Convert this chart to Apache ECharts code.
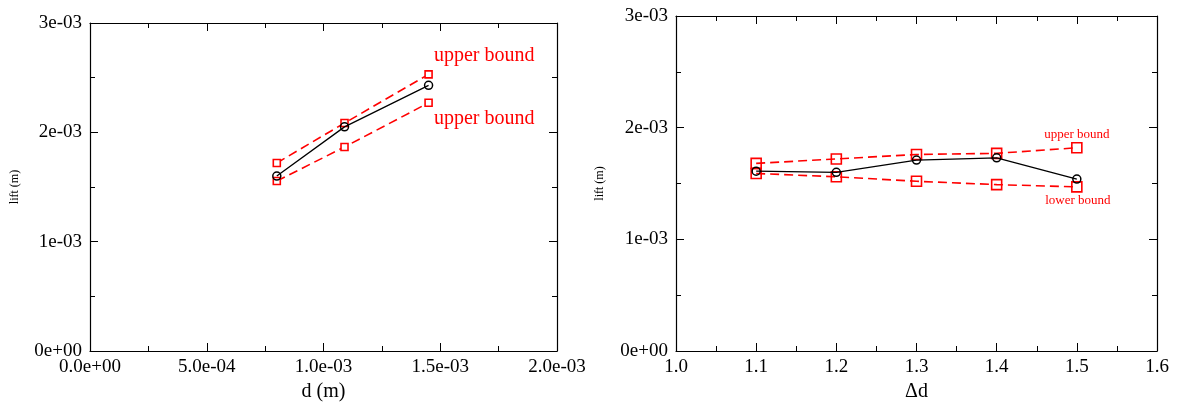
<!DOCTYPE html>
<html><head><meta charset="utf-8">
<script src="https://cdn.jsdelivr.net/npm/echarts@6/dist/echarts.min.js"></script>
<style>html,body{margin:0;padding:0;background:#fff}#c{width:1183px;height:406px}</style>
</head><body><div id="c"></div>
<script>
// ---- data ----
const leftX = [0.8e-3, 1.09e-3, 1.45e-3];
const leftLift = [1.60e-3, 2.05e-3, 2.43e-3];
const leftUpper = [1.72e-3, 2.085e-3, 2.53e-3];
const leftLower = [1.555e-3, 1.866e-3, 2.27e-3];

const rightX = [1.1, 1.2, 1.3, 1.4, 1.5];
const rightLift = [1.61e-3, 1.60e-3, 1.71e-3, 1.73e-3, 1.54e-3];
const rightUpper = [1.68e-3, 1.72e-3, 1.76e-3, 1.77e-3, 1.82e-3];
const rightLower = [1.59e-3, 1.56e-3, 1.52e-3, 1.49e-3, 1.47e-3];

const yTickLabels = ['0e+00', '1e-03', '2e-03', '3e-03'];
const leftXTickLabels = ['0.0e+00', '5.0e-04', '1.0e-03', '1.5e-03', '2.0e-03'];
const rightXTickLabels = ['1.0', '1.1', '1.2', '1.3', '1.4', '1.5', '1.6'];

const leftLabels = ['upper bound', 'upper bound'];
const rightLabels = ['upper bound', 'lower bound'];
// ---------------

const FONT = 'Liberation Serif';
const RED = '#ff0000';

function pts(xs, ys) { return xs.map((x, i) => [x, ys[i]]); }
function withLastLabel(xs, ys, text, labelCfg) {
  const d = pts(xs, ys);
  const last = d.length - 1;
  d[last] = { value: d[last], label: Object.assign({ show: true, formatter: text, color: RED, fontFamily: FONT }, labelCfg) };
  return d;
}

function axisCommon(extra) {
  return Object.assign({
    axisLine: { show: true, onZero: false, lineStyle: { color: '#000', width: 1.2 } },
    axisTick: { show: true, inside: true, length: 8, lineStyle: { color: '#000', width: 1 } },
    minorTick: { show: true, splitNumber: 2, length: 5, lineStyle: { color: '#000', width: 1 } },
    splitLine: { show: false },
    minorSplitLine: { show: false }
  }, extra);
}

const tickFont = { color: '#000', fontFamily: FONT, fontSize: 19 };

function yLabelFmt(v) { return yTickLabels[Math.round(v / 1e-3)]; }

const option = {
  backgroundColor: '#fff',
  animation: false,
  grid: [
    { left: 90, top: 23, right: 626, bottom: 55, containLabel: false, outerBoundsMode: 'none' },
    { left: 676, top: 16, right: 26, bottom: 55, containLabel: false, outerBoundsMode: 'none' }
  ],
  xAxis: [
    axisCommon({ gridIndex: 0, type: 'value', min: 0, max: 2e-3, interval: 5e-4, position: 'bottom',
      name: 'd (m)', nameLocation: 'middle', nameGap: 31,
      nameTextStyle: { color: '#000', fontFamily: FONT, fontSize: 20 },
      axisLabel: Object.assign({ margin: 7, formatter: v => leftXTickLabels[Math.round(v / 5e-4)] }, tickFont) }),
    axisCommon({ gridIndex: 0, type: 'value', min: 0, max: 2e-3, interval: 5e-4, position: 'top',
      axisLabel: { show: false } }),
    axisCommon({ gridIndex: 1, type: 'value', min: 1.0, max: 1.6, interval: 0.1, position: 'bottom',
      name: 'Δd', nameLocation: 'middle', nameGap: 31,
      nameTextStyle: { color: '#000', fontFamily: FONT, fontSize: 20 },
      axisLabel: Object.assign({ margin: 7, formatter: v => rightXTickLabels[Math.round((v - 1.0) / 0.1)] }, tickFont) }),
    axisCommon({ gridIndex: 1, type: 'value', min: 1.0, max: 1.6, interval: 0.1, position: 'top',
      axisLabel: { show: false } })
  ],
  yAxis: [
    axisCommon({ gridIndex: 0, type: 'value', min: 0, max: 3e-3, interval: 1e-3, position: 'left',
      name: 'lift (m)', nameLocation: 'middle', nameGap: 69, nameRotate: 90,
      nameTextStyle: { color: '#000', fontFamily: FONT, fontSize: 12 },
      axisLabel: Object.assign({ margin: 8, formatter: yLabelFmt }, tickFont) }),
    axisCommon({ gridIndex: 0, type: 'value', min: 0, max: 3e-3, interval: 1e-3, position: 'right',
      axisLabel: { show: false } }),
    axisCommon({ gridIndex: 1, type: 'value', min: 0, max: 3e-3, interval: 1e-3, position: 'left',
      name: 'lift (m)', nameLocation: 'middle', nameGap: 70, nameRotate: 90,
      nameTextStyle: { color: '#000', fontFamily: FONT, fontSize: 12 },
      axisLabel: Object.assign({ margin: 8, formatter: yLabelFmt }, tickFont) }),
    axisCommon({ gridIndex: 1, type: 'value', min: 0, max: 3e-3, interval: 1e-3, position: 'right',
      axisLabel: { show: false } })
  ],
  series: [
    { type: 'line', xAxisIndex: 0, yAxisIndex: 0, data: withLastLabel(leftX, leftUpper, leftLabels[0], { position: 'right', distance: 1, offset: [0, -19], fontSize: 20 }),
      symbol: 'rect', symbolSize: 7, showAllSymbol: true, z: 3,
      lineStyle: { color: RED, width: 1.6, type: [9, 5] },
      itemStyle: { color: '#fff', borderColor: RED, borderWidth: 1.6 } },
    { type: 'line', xAxisIndex: 0, yAxisIndex: 0, data: withLastLabel(leftX, leftLower, leftLabels[1], { position: 'right', distance: 1, offset: [0, 16], fontSize: 20 }),
      symbol: 'rect', symbolSize: 7, showAllSymbol: true, z: 3,
      lineStyle: { color: RED, width: 1.6, type: [9, 5] },
      itemStyle: { color: '#fff', borderColor: RED, borderWidth: 1.6 } },
    { type: 'line', xAxisIndex: 0, yAxisIndex: 0, data: pts(leftX, leftLift),
      symbol: 'circle', symbolSize: 8, showAllSymbol: true, z: 4,
      lineStyle: { color: '#000', width: 1.3 },
      itemStyle: { color: 'rgba(255,255,255,0)', borderColor: '#000', borderWidth: 1.5 } },

    { type: 'line', xAxisIndex: 2, yAxisIndex: 2, data: withLastLabel(rightX, rightUpper, rightLabels[0], { position: 'top', distance: 1, offset: [0, 0], fontSize: 13 }),
      symbol: 'rect', symbolSize: 10, showAllSymbol: true, z: 3,
      lineStyle: { color: RED, width: 1.6, type: [9, 5] },
      itemStyle: { color: 'rgba(255,255,255,0)', borderColor: RED, borderWidth: 1.6 } },
    { type: 'line', xAxisIndex: 2, yAxisIndex: 2, data: withLastLabel(rightX, rightLower, rightLabels[1], { position: 'bottom', distance: 1, offset: [1, 0], fontSize: 13 }),
      symbol: 'rect', symbolSize: 10, showAllSymbol: true, z: 3,
      lineStyle: { color: RED, width: 1.6, type: [9, 5] },
      itemStyle: { color: 'rgba(255,255,255,0)', borderColor: RED, borderWidth: 1.6 } },
    { type: 'line', xAxisIndex: 2, yAxisIndex: 2, data: pts(rightX, rightLift),
      symbol: 'circle', symbolSize: 8, showAllSymbol: true, z: 4,
      lineStyle: { color: '#000', width: 1.3 },
      itemStyle: { color: 'rgba(255,255,255,0)', borderColor: '#000', borderWidth: 1.5 } }
  ]
};

const chart = echarts.init(document.getElementById('c'), null, { renderer: 'canvas' });
chart.setOption(option);
</script>
</body></html>
